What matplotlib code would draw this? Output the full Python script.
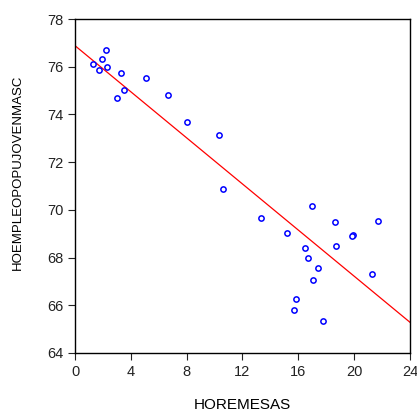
import numpy as np
import matplotlib.pyplot as plt

plt.rcParams['font.family'] = ['Liberation Sans', 'DejaVu Sans']

# scatter data
horemesas = [1.27, 1.74, 1.91, 2.24, 2.31, 3.30, 3.53, 3.01, 5.11, 6.64,
             8.04, 10.29, 10.60, 13.30, 16.98, 15.16, 18.62, 21.73, 19.94,
             19.86, 16.50, 18.67, 16.71, 17.41, 21.25, 17.03, 15.83, 15.71,
             17.76]
hoempleo = [76.10, 75.88, 76.34, 76.70, 75.98, 75.74, 75.01, 74.68, 75.51,
            74.80, 73.67, 73.13, 70.89, 69.67, 70.16, 69.02, 69.48, 69.55,
            68.93, 68.91, 68.41, 68.47, 68.00, 67.58, 67.30, 67.06, 66.25,
            65.79, 65.33]

# fitted line end points
fit_x = [0, 24]
fit_y = [76.88, 65.29]

xticks = [0, 4, 8, 12, 16, 20, 24]
yticks = [64, 66, 68, 70, 72, 74, 76, 78]

fig = plt.figure(figsize=(4.17, 4.15), dpi=100)
ax = fig.add_axes([0.180, 0.1494, 0.803, 0.8048])

ax.plot(fit_x, fit_y, color='red', linewidth=0.9)
ax.plot(horemesas, hoempleo, linestyle='none', marker='o', markersize=3.8,
        markerfacecolor='white', markeredgecolor='blue', markeredgewidth=1.1)

ax.set_xlim(0, 24)
ax.set_ylim(64, 78)
ax.set_xticks(xticks)
ax.set_yticks(yticks)
ax.tick_params(direction='out', length=5, width=0.8, labelsize=10.5,
               colors='#222222')
for s in ax.spines.values():
    s.set_linewidth(1.0)

ax.set_xlabel('HOREMESAS', fontsize=11)
ax.xaxis.set_label_coords(0.5, -0.157)
ax.xaxis.label.set_va('center')
ax.set_ylabel('HOEMPLEOPOPUJOVENMASC', fontsize=9.5)
ax.yaxis.set_label_coords(-0.170, 0.542)
ax.yaxis.label.set_va('center')

fig.savefig('out.png', dpi=100)
